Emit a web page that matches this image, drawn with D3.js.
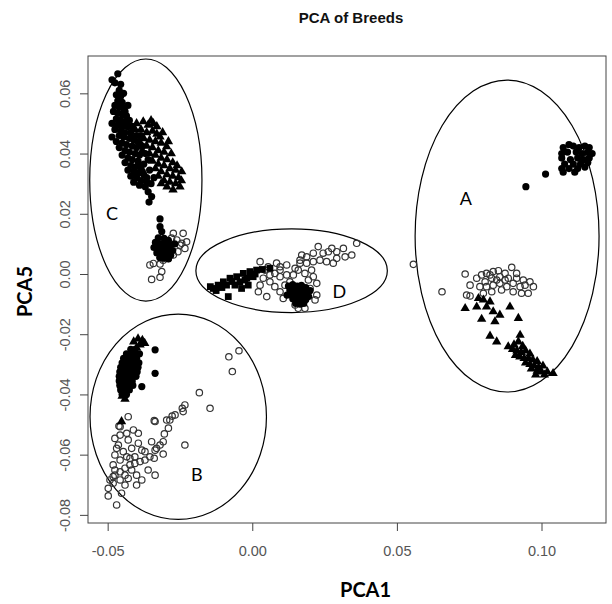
<!DOCTYPE html>
<html><head><meta charset="utf-8">
<script src="https://cdn.jsdelivr.net/npm/d3@7"></script>
<style>body{margin:0;background:#fff}svg{display:block}</style>
</head><body>
<svg id="chart" width="612" height="604"></svg>
<script>
// ---- data (PCA1, PCA5) ----
const filledCircles = [
 // C upper
 [-0.0465,0.0665],[-0.0485,0.0645],[-0.0475,0.0635],[-0.0455,0.0630],[-0.0460,0.0610],[-0.0470,0.0595],[-0.0455,0.0590],
 [-0.0465,0.0575],[-0.0450,0.0570],[-0.0475,0.0560],[-0.0460,0.0555],[-0.0445,0.0550],[-0.0480,0.0540],[-0.0465,0.0535],
 [-0.0450,0.0530],[-0.0435,0.0525],[-0.0470,0.0515],[-0.0455,0.0510],[-0.0440,0.0505],[-0.0485,0.0500],[-0.0465,0.0495],
 [-0.0450,0.0490],[-0.0430,0.0490],[-0.0475,0.0480],[-0.0455,0.0475],[-0.0440,0.0470],[-0.0420,0.0470],[-0.0485,0.0455],
 [-0.0460,0.0460],[-0.0445,0.0455],[-0.0425,0.0450],[-0.0410,0.0445],[-0.0470,0.0440],[-0.0450,0.0435],[-0.0435,0.0430],
 [-0.0415,0.0425],[-0.0400,0.0420],[-0.0460,0.0420],[-0.0440,0.0410],[-0.0425,0.0405],[-0.0405,0.0400],[-0.0390,0.0395],
 [-0.0450,0.0395],[-0.0430,0.0385],[-0.0415,0.0380],[-0.0395,0.0375],[-0.0440,0.0370],[-0.0420,0.0360],[-0.0405,0.0355],
 [-0.0385,0.0350],[-0.0430,0.0345],[-0.0410,0.0340],[-0.0395,0.0335],[-0.0375,0.0330],[-0.0420,0.0325],[-0.0400,0.0320],
 [-0.0385,0.0310],[-0.0410,0.0305],[-0.0390,0.0295],[-0.0370,0.0290],[-0.0360,0.0273],[-0.0348,0.0257],[-0.0357,0.0239],
 [-0.0319,0.0183],
 [-0.0395,0.0440],[-0.0380,0.0425],[-0.0385,0.0460],[-0.0370,0.0400],[-0.0360,0.0380],[-0.0375,0.0365],[-0.0355,0.0345],
 [-0.0365,0.0320],[-0.0350,0.0300],[-0.0340,0.0320],[-0.0400,0.0460],[-0.0415,0.0490],[-0.0425,0.0510],[-0.0395,0.0360],
 [-0.0440,0.0540],[-0.0430,0.0560],[-0.0445,0.0600],[-0.0380,0.0340],[-0.0365,0.0305],
 // C lower
 [-0.0319,0.0157],[-0.0313,0.0141],[-0.0325,0.0120],[-0.0305,0.0118],[-0.0290,0.0112],[-0.0335,0.0105],[-0.0318,0.0100],
 [-0.0300,0.0098],[-0.0283,0.0095],[-0.0268,0.0100],[-0.0340,0.0088],[-0.0325,0.0085],[-0.0308,0.0082],[-0.0292,0.0080],
 [-0.0275,0.0078],[-0.0330,0.0070],[-0.0315,0.0068],[-0.0298,0.0065],[-0.0282,0.0062],[-0.0320,0.0055],[-0.0305,0.0052],
 [-0.0290,0.0050],
 // D blob
 [0.0125,-0.0040],[0.0140,-0.0035],[0.0155,-0.0040],[0.0170,-0.0038],[0.0185,-0.0045],[0.0130,-0.0055],[0.0145,-0.0052],
 [0.0160,-0.0055],[0.0175,-0.0058],[0.0190,-0.0060],[0.0135,-0.0068],[0.0150,-0.0070],[0.0165,-0.0072],[0.0180,-0.0070],
 [0.0195,-0.0075],[0.0140,-0.0082],[0.0155,-0.0085],[0.0170,-0.0088],[0.0185,-0.0085],[0.0150,-0.0098],[0.0165,-0.0100],
 [0.0178,-0.0098],[0.0120,-0.0070],[0.0200,-0.0055],
 // A top right
 [0.1075,0.0420],[0.1095,0.0430],[0.1110,0.0425],[0.1130,0.0420],[0.1150,0.0425],[0.1165,0.0420],[0.1070,0.0400],
 [0.1090,0.0405],[0.1120,0.0405],[0.1140,0.0400],[0.1160,0.0405],[0.1175,0.0400],[0.1070,0.0385],[0.1100,0.0380],
 [0.1125,0.0385],[0.1145,0.0380],[0.1165,0.0385],[0.1080,0.0365],[0.1110,0.0365],[0.1135,0.0365],[0.1160,0.0370],
 [0.1070,0.0350],[0.1095,0.0350],[0.1125,0.0350],[0.1150,0.0355],[0.1075,0.0338],[0.1115,0.0338],[0.1014,0.0332],
 [0.0946,0.0290],
 // B blob
 [-0.0420,-0.0250],[-0.0405,-0.0250],
 [-0.0435,-0.0265],[-0.0420,-0.0265],[-0.0405,-0.0265],[-0.0390,-0.0265],
 [-0.0445,-0.0280],[-0.0430,-0.0280],[-0.0415,-0.0280],[-0.0400,-0.0280],
 [-0.0450,-0.0295],[-0.0435,-0.0295],[-0.0420,-0.0295],[-0.0405,-0.0295],[-0.0392,-0.0295],
 [-0.0455,-0.0310],[-0.0440,-0.0310],[-0.0425,-0.0310],[-0.0410,-0.0310],[-0.0395,-0.0310],
 [-0.0458,-0.0325],[-0.0443,-0.0325],[-0.0428,-0.0325],[-0.0413,-0.0325],[-0.0398,-0.0325],
 [-0.0460,-0.0340],[-0.0445,-0.0340],[-0.0430,-0.0340],[-0.0415,-0.0340],[-0.0402,-0.0340],
 [-0.0460,-0.0355],[-0.0445,-0.0355],[-0.0430,-0.0355],[-0.0415,-0.0355],
 [-0.0458,-0.0370],[-0.0443,-0.0370],[-0.0428,-0.0370],[-0.0413,-0.0370],
 [-0.0455,-0.0385],[-0.0440,-0.0385],[-0.0425,-0.0385],
 [-0.0450,-0.0400],[-0.0435,-0.0400],
 [-0.0336,-0.0252],[-0.0336,-0.0330],[-0.0382,-0.0374]
];

const filledTriangles = [
 // C
 [-0.0400,0.0500],[-0.0377,0.0506],[-0.0360,0.0495],[-0.0342,0.0500],[-0.0385,0.0480],[-0.0365,0.0470],[-0.0345,0.0475],
 [-0.0330,0.0465],[-0.0319,0.0456],[-0.0375,0.0450],[-0.0355,0.0445],[-0.0335,0.0440],[-0.0315,0.0435],[-0.0296,0.0423],
 [-0.0365,0.0425],[-0.0345,0.0420],[-0.0325,0.0410],[-0.0305,0.0405],[-0.0355,0.0400],[-0.0335,0.0395],[-0.0315,0.0385],
 [-0.0295,0.0380],[-0.0275,0.0370],[-0.0345,0.0375],[-0.0325,0.0365],[-0.0305,0.0360],[-0.0285,0.0350],[-0.0265,0.0345],
 [-0.0244,0.0340],[-0.0335,0.0350],[-0.0315,0.0340],[-0.0295,0.0330],[-0.0275,0.0325],[-0.0255,0.0320],[-0.0325,0.0325],
 [-0.0305,0.0310],[-0.0285,0.0305],[-0.0265,0.0300],[-0.0250,0.0290],[-0.0274,0.0280],[-0.0295,0.0290],[-0.0315,0.0300],
 [-0.0420,0.0460],[-0.0405,0.0480],[-0.0390,0.0440],[-0.0380,0.0410],
 [-0.0350,0.0510],[-0.0330,0.0490],[-0.0310,0.0470],[-0.0290,0.0440],[-0.0280,0.0400],[-0.0260,0.0360],[-0.0245,0.0310],
 // A
 [0.0736,-0.0114],[0.0776,-0.0109],[0.0782,-0.0081],[0.0799,-0.0086],[0.0822,-0.0092],[0.0810,-0.0109],[0.0833,-0.0125],
 [0.0891,-0.0109],[0.0856,-0.0136],[0.0793,-0.0150],[0.0839,-0.0158],[0.0920,-0.0147],[0.0822,-0.0206],[0.0845,-0.0225],
 [0.0926,-0.0203],[0.0885,-0.0241],
 [0.0905,-0.0235],[0.0920,-0.0225],[0.0935,-0.0240],[0.0915,-0.0255],[0.0930,-0.0260],[0.0945,-0.0255],[0.0960,-0.0265],
 [0.0925,-0.0275],[0.0940,-0.0280],[0.0955,-0.0280],[0.0970,-0.0285],[0.0985,-0.0290],[0.0945,-0.0295],[0.0960,-0.0300],
 [0.0975,-0.0305],[0.0990,-0.0310],[0.1005,-0.0305],[0.0965,-0.0315],[0.0985,-0.0322],[0.1000,-0.0325],[0.1020,-0.0325],
 [0.1040,-0.0330],[0.0980,-0.0335],[0.1010,-0.0335],[0.0900,-0.0250],[0.0910,-0.0270],
 // B
 [-0.0395,-0.0215],[-0.0380,-0.0220],[-0.0410,-0.0225],[-0.0388,-0.0235],[-0.0372,-0.0230],[-0.0400,-0.0245],
 [-0.0440,-0.0415],[-0.0450,-0.0405],[-0.0452,-0.0490]
];

const filledSquares = [
 [-0.0135,-0.0048],[-0.0118,-0.0037],[-0.0100,-0.0026],[-0.0077,-0.0014],[-0.0054,-0.0009],[-0.0031,0.0002],
 [-0.0008,0.0008],[0.0015,0.0013],[0.0061,0.0019],[-0.0083,-0.0075],[-0.0037,-0.0048],[-0.0014,-0.0037],
 [-0.0060,-0.0037],[-0.0019,-0.0014],[0.0003,-0.0009],[-0.0089,-0.0037],[-0.0043,-0.0026],
 [-0.0125,-0.0055],[-0.0105,-0.0045],[-0.0070,-0.0025],[-0.0025,-0.0020],[0.0010,0.0000],[0.0035,0.0015],[-0.0145,-0.0042]
];

const openCircles = [
 // C lower
 [-0.0273,0.0135],[-0.0239,0.0135],[-0.0227,0.0107],[-0.0250,0.0096],[-0.0233,0.0085],[-0.0257,0.0074],[-0.0273,0.0063],
 [-0.0290,0.0052],[-0.0308,0.0046],[-0.0342,0.0035],[-0.0319,0.0033],[-0.0354,0.0030],[-0.0313,0.0008],[-0.0319,-0.0011],
 [-0.0348,-0.0018],[-0.0279,0.0119],[-0.0261,0.0113],[-0.0244,0.0102],
 // D
 [0.0027,0.0041],[0.0055,0.0024],[0.0084,0.0036],[0.0096,0.0024],[0.0119,0.0030],[0.0148,0.0019],[0.0171,0.0063],
 [0.0188,0.0057],[0.0211,0.0069],[0.0228,0.0091],[0.0245,0.0069],[0.0263,0.0074],[0.0275,0.0085],[0.0292,0.0074],
 [0.0315,0.0085],[0.0321,0.0057],[0.0344,0.0063],[0.0361,0.0102],[0.0234,0.0046],[0.0257,0.0041],[0.0280,0.0036],
 [0.0292,0.0052],[0.0188,0.0036],[0.0211,0.0041],[0.0165,0.0046],[0.0205,0.0013],[0.0211,-0.0009],[0.0223,-0.0031],
 [0.0223,-0.0070],[0.0217,-0.0086],[0.0182,-0.0114],[0.0159,-0.0114],[0.0148,-0.0103],[0.0107,-0.0081],[0.0096,-0.0059],
 [0.0078,-0.0042],[0.0061,-0.0026],[0.0050,-0.0075],[0.0021,-0.0059],[0.0027,-0.0037],[0.0096,-0.0009],[0.0119,-0.0003],
 [0.0130,-0.0026],[0.0078,0.0002],[0.0096,0.0013],[0.0142,-0.0003],[0.0159,0.0013],[0.0182,0.0002],[0.0194,-0.0020],
 [0.0200,-0.0048],[0.0113,-0.0037],[0.0061,-0.0003],[0.0044,0.0013],[0.0038,-0.0014],[0.0182,-0.0086],[0.0165,0.0036],
 // A
 [0.0557,0.0032],[0.0656,-0.0059],
 [0.0736,0.0000],[0.0753,-0.0037],[0.0741,-0.0070],[0.0753,-0.0073],[0.0776,-0.0014],[0.0793,-0.0003],[0.0810,0.0002],
 [0.0833,0.0008],[0.0851,0.0011],[0.0874,0.0002],[0.0897,0.0022],[0.0914,-0.0014],[0.0937,-0.0020],[0.0960,-0.0026],
 [0.0972,-0.0042],[0.0954,-0.0064],[0.0926,-0.0042],[0.0902,-0.0031],[0.0885,-0.0014],[0.0856,-0.0009],[0.0828,-0.0014],
 [0.0805,-0.0026],[0.0787,-0.0042],[0.0810,-0.0042],[0.0833,-0.0037],[0.0856,-0.0031],[0.0880,-0.0042],[0.0902,-0.0059],
 [0.0862,-0.0053],[0.0828,-0.0059],[0.0799,-0.0064],[0.0931,-0.0064],[0.0845,-0.0020],[0.0822,-0.0003],[0.0874,-0.0020],
 [0.0914,0.0002],[0.0943,-0.0037],
 // B
 [-0.0081,-0.0275],[-0.0046,-0.0255],[-0.0069,-0.0324],
 [-0.0183,-0.0394],[-0.0146,-0.0446],[-0.0233,-0.0435],[-0.0242,-0.0446],[-0.0239,-0.0457],[-0.0267,-0.0468],[-0.0277,-0.0472],
 [-0.0285,-0.0485],[-0.0296,-0.0485],[-0.0290,-0.0512],[-0.0336,-0.0490],[-0.0339,-0.0487],[-0.0304,-0.0531],[-0.0308,-0.0557],
 [-0.0233,-0.0568],[-0.0348,-0.0557],[-0.0331,-0.0579],[-0.0308,-0.0598],[-0.0339,-0.0612],[-0.0354,-0.0607],
 [-0.0371,-0.0618],[-0.0388,-0.0623],[-0.0406,-0.0629],[-0.0423,-0.0634],[-0.0440,-0.0645],[-0.0457,-0.0657],
 [-0.0475,-0.0668],[-0.0492,-0.0684],[-0.0336,-0.0668],[-0.0382,-0.0684],[-0.0400,-0.0701],[-0.0429,-0.0474],
 [-0.0457,-0.0507],[-0.0461,-0.0505],[-0.0434,-0.0529],[-0.0457,-0.0535],[-0.0429,-0.0551],[-0.0394,-0.0562],[-0.0463,-0.0568],
 [-0.0417,-0.0579],[-0.0382,-0.0585],[-0.0446,-0.0590],[-0.0475,-0.0601],[-0.0434,-0.0607],[-0.0406,-0.0607],
 [-0.0457,-0.0618],[-0.0481,-0.0634],[-0.0440,-0.0668],[-0.0457,-0.0684],[-0.0481,-0.0695],[-0.0440,-0.0701],
 [-0.0498,-0.0712],[-0.0498,-0.0737],[-0.0469,-0.0767],[-0.0452,-0.0728],[-0.0475,-0.0651],[-0.0417,-0.0651],
 [-0.0400,-0.0668],[-0.0429,-0.0679],[-0.0360,-0.0651],[-0.0371,-0.0590],[-0.0411,-0.0518],[-0.0394,-0.0529],
 [-0.0481,-0.0673],[-0.0423,-0.0612],[-0.0469,-0.0579],[-0.0336,-0.0585],[-0.0319,-0.0568],[-0.0475,-0.0546]
];

const groupNames = ["A", "B", "C", "D"];
const ellipseCx = [0.0881, -0.0256, -0.0368, 0.0136];
const ellipseCy = [0.0126, -0.0474, 0.0312, 0.0011];
const ellipseRx = [0.0318, 0.0305, 0.0194, 0.0331];
const ellipseRy = [0.0518, 0.0341, 0.0402, 0.0139];
const labelX = [0.0738, -0.0192, -0.0485, 0.0301];
const labelY = [0.0251, -0.0664, 0.0201, -0.0055];

const xTicks = [-0.05, 0.00, 0.05, 0.10];
const yTicks = [-0.08, -0.06, -0.04, -0.02, 0.00, 0.02, 0.04, 0.06];
const xDomain = [-0.0568, 0.1223];
const yDomain = [-0.0827, 0.0724];
const titleText = "PCA of Breeds";
const xLabel = "PCA1";
const yLabel = "PCA5";

// ---- drawing ----
const svg = d3.select("#chart");
const L = 88, R = 606, T = 56, B = 523;
const x = d3.scaleLinear().domain(xDomain).range([L, R]);
const y = d3.scaleLinear().domain(yDomain).range([B, T]);
const tickColor = "#444";
const fmt = v => d3.format(".2f")(v).replace("\u2212", "-");

svg.append("text").attr("x", (L + R) / 2 + 4).attr("y", 23).attr("text-anchor", "middle")
  .attr("font-family", "Liberation Sans, Arial, sans-serif").attr("font-weight", "bold")
  .attr("font-size", 15).attr("fill", "#111").text(titleText);

const xAxis = svg.append("g").attr("transform", `translate(0,${B})`)
  .call(d3.axisBottom(x).tickValues(xTicks).tickFormat(fmt).tickSize(8).tickPadding(15));
const yAxis = svg.append("g").attr("transform", `translate(${L},0)`)
  .call(d3.axisLeft(y).tickValues(yTicks).tickFormat(fmt).tickSize(8).tickPadding(6));
[xAxis, yAxis].forEach(g => {
  g.select(".domain").remove();
  g.selectAll("line").attr("stroke", tickColor);
  g.selectAll("text").attr("fill", "#555").attr("font-size", 14.5)
    .attr("font-family", "Liberation Sans, Arial, sans-serif");
});
yAxis.selectAll("text")
  .attr("x", null).attr("dy", null).attr("y", 0)
  .attr("text-anchor", "middle").attr("dominant-baseline", "central")
  .attr("transform", "translate(-23,0) rotate(-90)");

svg.append("rect").attr("x", L).attr("y", T).attr("width", R - L).attr("height", B - T)
  .attr("fill", "none").attr("stroke", "#444").attr("stroke-width", 1);

svg.append("text").attr("x", 340).attr("y", 597).attr("text-anchor", "start")
  .attr("font-family", "Lato, Liberation Sans, sans-serif").attr("font-weight", "bold")
  .attr("font-size", 20).attr("fill", "#000").text(xLabel);
svg.append("text").attr("transform", `translate(32,${(T + B) / 2 + 2}) rotate(-90)`)
  .attr("text-anchor", "middle")
  .attr("font-family", "Lato, Liberation Sans, sans-serif").attr("font-weight", "bold")
  .attr("font-size", 20).attr("fill", "#000").text(yLabel);

const plot = svg.append("g");

// ellipses
plot.selectAll("ellipse.grp").data(groupNames).join("ellipse")
  .attr("cx", (d, i) => x(ellipseCx[i]))
  .attr("cy", (d, i) => y(ellipseCy[i]))
  .attr("rx", (d, i) => x(ellipseCx[i] + ellipseRx[i]) - x(ellipseCx[i]))
  .attr("ry", (d, i) => y(ellipseCy[i]) - y(ellipseCy[i] + ellipseRy[i]))
  .attr("fill", "none").attr("stroke", "#000").attr("stroke-width", 1.2);

// points
const triSym = d3.symbol().type(d3.symbolTriangle).size(38);
const sqSym = d3.symbol().type(d3.symbolSquare).size(46);

plot.selectAll("circle.oc").data(openCircles).join("circle").attr("class", "oc")
  .attr("cx", d => x(d[0])).attr("cy", d => y(d[1])).attr("r", 3.2)
  .attr("fill", "none").attr("stroke", "#333").attr("stroke-width", 1.2);
plot.selectAll("path.tri").data(filledTriangles).join("path").attr("class", "tri")
  .attr("d", triSym).attr("transform", d => `translate(${x(d[0])},${y(d[1])})`).attr("fill", "#000");
plot.selectAll("path.sq").data(filledSquares).join("path").attr("class", "sq")
  .attr("d", sqSym).attr("transform", d => `translate(${x(d[0])},${y(d[1])})`).attr("fill", "#000");
plot.selectAll("circle.fc").data(filledCircles).join("circle").attr("class", "fc")
  .attr("cx", d => x(d[0])).attr("cy", d => y(d[1])).attr("r", 3.6).attr("fill", "#000");

// group letters
plot.selectAll("text.lbl").data(groupNames).join("text").attr("class", "lbl")
  .attr("x", (d, i) => x(labelX[i])).attr("y", (d, i) => y(labelY[i]))
  .attr("text-anchor", "middle").attr("dominant-baseline", "central")
  .attr("font-family", "Lato, Liberation Sans, sans-serif").attr("font-size", 18)
  .attr("fill", "#000").text(d => d);
</script>
</body></html>
